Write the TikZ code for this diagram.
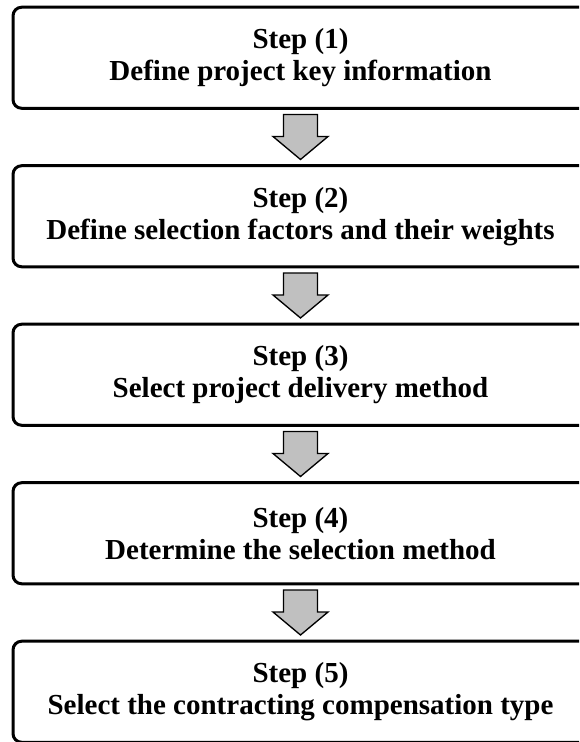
\documentclass[tikz,border=0pt]{standalone}
\usepackage{fontspec}
\setmainfont{Liberation Serif}
\usetikzlibrary{calc}
\definecolor{arrowgray}{HTML}{C0C0C0}
\begin{document}
\begin{tikzpicture}[x=0.75pt,y=-0.75pt,
  stepbox/.style={minimum width=450pt, minimum height=75.4pt, inner sep=0pt},
  frame/.style={draw=black, line width=2.25pt, rounded corners=6.5pt},
  steptext/.style={align=center, inner sep=0pt,
    font=\fontsize{21.75pt}{24pt}\selectfont\bfseries},
  flowarrow/.pic={
    \draw[fill=arrowgray, line width=1pt, line join=miter]
      (-17,-22.5) -- (17,-22.5) -- (17,-0.5) -- (27.5,-0.5)
      -- (0,22.5) -- (-27.5,-0.5) -- (-17,-0.5) -- cycle;}
]
% page frame: the boxes run past the right and bottom edges
\useasboundingbox (0,0) rectangle (579,742);
\clip (0,0) rectangle (579,742);

% vertical axis of the labels and arrows
\coordinate (axis) at (300.5,0);

% the five step boxes, left edges at x = 13
\node[stepbox, anchor=west] (s1) at (13,57.75)  {};
\node[stepbox, anchor=west] (s2) at (13,216.25) {};
\node[stepbox, anchor=west] (s3) at (13,374.75) {};
\node[stepbox, anchor=west] (s4) at (13,533.25) {};
\node[stepbox, anchor=west] (s5) at (13,691.75) {};
\foreach \s in {s1,s2,s3,s4,s5}{
  \draw[frame] (\s.north east) -- (\s.north west) -- (\s.south west) -- (\s.south east);
}

% step labels
\node[steptext] (ts1) at (axis |- s1.center) {Step (1)\\Define project key information};
\node[steptext] (ts2) at (axis |- s2.center) {Step (2)\\Define selection factors and their weights};
\node[steptext] (ts3) at (axis |- s3.center) {Step (3)\\Select project delivery method};
\node[steptext] (ts4) at (axis |- s4.center) {Step (4)\\Determine the selection method};
\node[steptext] (ts5) at (axis |- s5.center) {Step (5)\\Select the contracting compensation type};

% block arrows between consecutive steps
\foreach \a/\b in {s1/s2, s2/s3, s3/s4, s4/s5}{
  \coordinate (g\a) at ($(\a.south)!0.5!(\b.north)$);
  \coordinate (m\a) at (axis |- g\a);
  \pic at (m\a) {flowarrow};
}
\end{tikzpicture}
\end{document}
